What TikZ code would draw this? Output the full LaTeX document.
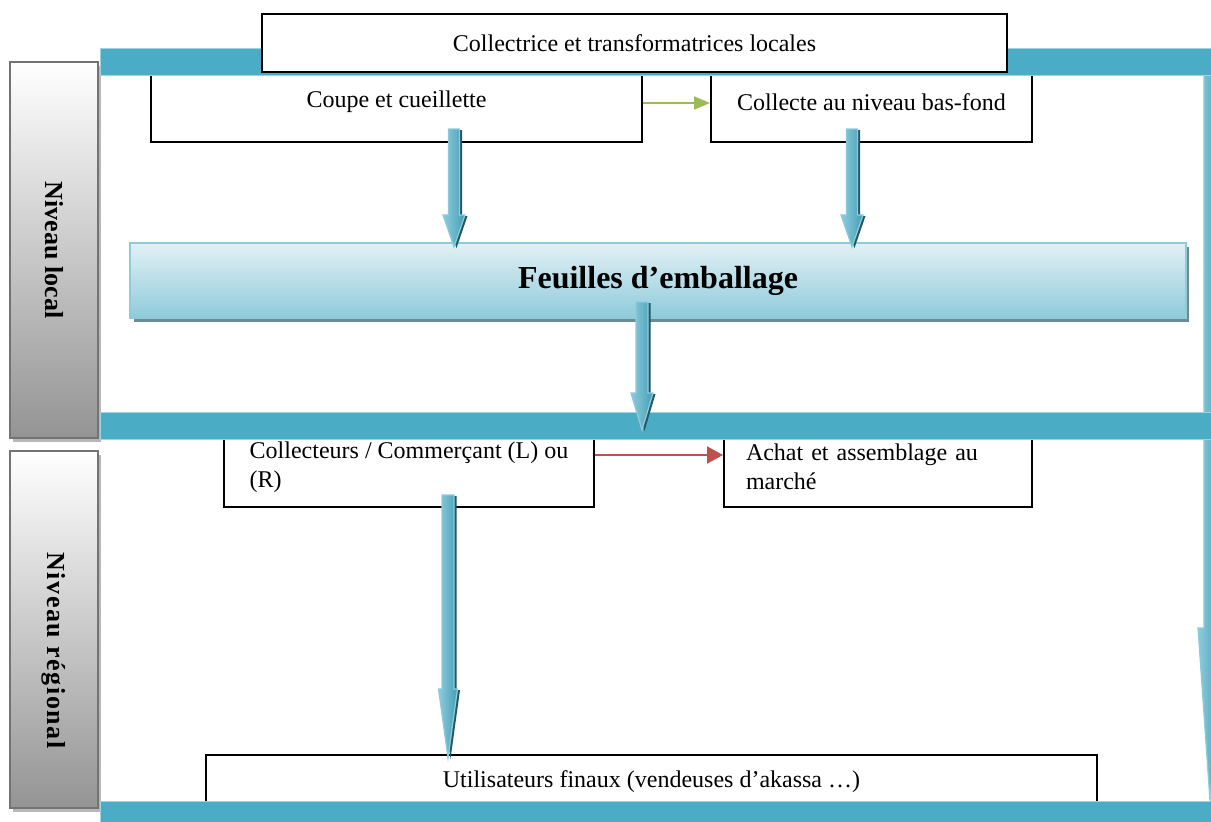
\documentclass[tikz,border=0pt]{standalone}
\usepackage{fontspec}
\setmainfont{Liberation Serif}
\usetikzlibrary{arrows.meta,calc}

\definecolor{bandblue}{HTML}{4BACC6}
\definecolor{bandedge}{HTML}{9ED3E1}
\definecolor{arrowlight}{HTML}{8DCBDC}
\definecolor{arrowdark}{HTML}{215968}
\definecolor{panetop}{HTML}{E2F0F5}
\definecolor{panebottom}{HTML}{8FCBDA}
\definecolor{paneshadow}{HTML}{6E8A94}
\definecolor{flowgreen}{HTML}{9BBB59}
\definecolor{flowred}{HTML}{C0504D}

\tikzset{
  every node/.style={font=\fontsize{12pt}{14.5pt}\selectfont},
  plainbox/.style={draw=black, line width=1pt, fill=white, inner sep=0pt},
  band/.style={fill=bandblue, draw=bandedge, line width=0.5pt},
  levelbox/.style={draw=black!55, line width=1.3pt, top color=white,
    bottom color=black!42, inner sep=0pt, minimum width=44pt,
    font=\fontsize{13pt}{15pt}\selectfont\bfseries},
  levelshadow/.style={fill=black!28},
  greenflow/.style={draw=flowgreen, line width=1pt,
    -{Triangle[width=6.5pt,length=8pt]}},
  redflow/.style={draw=flowred, line width=1pt,
    -{Triangle[width=8.5pt,length=8pt]}},
}

% thick 3D block arrow: #1 tail, #2 tip, #3 half shaft, #4 half head, #5 head length
\newcommand\flowarrow[5]{%
  \fill[arrowdark] ($(#1)+(-#3+2.5,1)$) -- ($(#1)+(#3+2.5,1)$)
    -- ($(#2)+(#3+2.5,-#5+1)$) -- ($(#2)+(#4+2.5,-#5+1)$) -- ($(#2)+(2.5,1)$)
    -- ($(#2)+(-#4+2.5,-#5+1)$) -- ($(#2)+(-#3+2.5,-#5+1)$) -- cycle;
  \shade[left color=arrowlight, middle color=bandblue, right color=bandblue!92!black,
    draw=arrowlight, line width=0.6pt]
    ($(#1)+(-#3,0)$) -- ($(#1)+(#3,0)$)
    -- ($(#2)+(#3,-#5)$) -- ($(#2)+(#4,-#5)$) -- (#2)
    -- ($(#2)+(-#4,-#5)$) -- ($(#2)+(-#3,-#5)$) -- cycle;
}

\begin{document}
\begin{tikzpicture}[x=0.5pt,y=-0.5pt]
\useasboundingbox (0,0) rectangle (1211,821);

% level labels on the left
\fill[levelshadow] (13,66) rectangle (101,442);
\node[levelbox, minimum height=188pt] (loc) at (54,250)
  {\rotatebox{-90}{Niveau local}};
\fill[levelshadow] (13,455) rectangle (101,812);
\node[levelbox, minimum height=178.5pt] (reg) at (54,629.5)
  {\rotatebox{-90}{\hspace*{21pt}\addfontfeatures{LetterSpace=6}Niveau r\'egional}};

% boxes partly covered by the bands
\node[plainbox, minimum width=245.5pt, minimum height=40pt] (cc) at (396.5,102)
  {Coupe et cueillette};
\node[plainbox, minimum width=160.5pt, minimum height=40pt] (cb) at (871.5,102)
  {Collecte au niveau bas-fond};
\node[plainbox, minimum width=185pt, minimum height=39.5pt, align=left] (co) at (409,467)
  {Collecteurs / Commer\c{c}ant (L) ou\\(R)};
\node[plainbox, minimum width=154pt, minimum height=39.5pt, text width=132pt, align=left] (ac) at (878,467)
  {Achat et assemblage au\\march\'e};
\node[plainbox, minimum width=445.5pt, minimum height=27pt] (uf) at (651.5,782)
  {Utilisateurs finaux (vendeuses d’akassa …)};

% long arrow along the right edge
\coordinate (r0) at (1210,75);
\coordinate (r1) at (1210,801);
\flowarrow{r0}{r1}{6}{12}{173}

% horizontal bands
\path[band] (100,48) rectangle (1216,75);
\path[band] (100,412) rectangle (1216,439);
\path[band] (100,801) rectangle (1216,826);

% top box over the band
\node[plainbox, minimum width=372.5pt, minimum height=29pt] (ct) at (634.5,43)
  {Collectrice et transformatrices locales};

% central product
\fill[paneshadow] (134,247) rectangle (1189,322);
\node[draw=panebottom, line width=1pt, top color=panetop, bottom color=panebottom,
  minimum width=528pt, minimum height=37.5pt, inner sep=0pt,
  font=\fontsize{16pt}{18pt}\selectfont\bfseries] (fe) at (658,280.5)
  {Feuilles d’emballage};

% block arrows
\coordinate (a1) at (454,129);
\coordinate (b1) at (454,247);
\coordinate (a2) at (852,129);
\coordinate (b2) at (852,247);
\coordinate (a3) at (642,302);
\coordinate (b3) at (642,430);
\coordinate (a4) at (448,495);
\coordinate (b4) at (448,758);
\flowarrow{a1}{b1}{5.5}{11}{32}
\flowarrow{a2}{b2}{5.5}{11}{32}
\flowarrow{a3}{b3}{6}{11}{37}
\flowarrow{a4}{b4}{6}{9.5}{69}

% thin flow arrows between boxes
\draw[greenflow] ([yshift=-0.5pt]cc.east) -- ([yshift=-0.5pt]cb.west);
\draw[redflow] ([yshift=6pt]co.east) -- ([yshift=6pt]ac.west);
\end{tikzpicture}
\end{document}
